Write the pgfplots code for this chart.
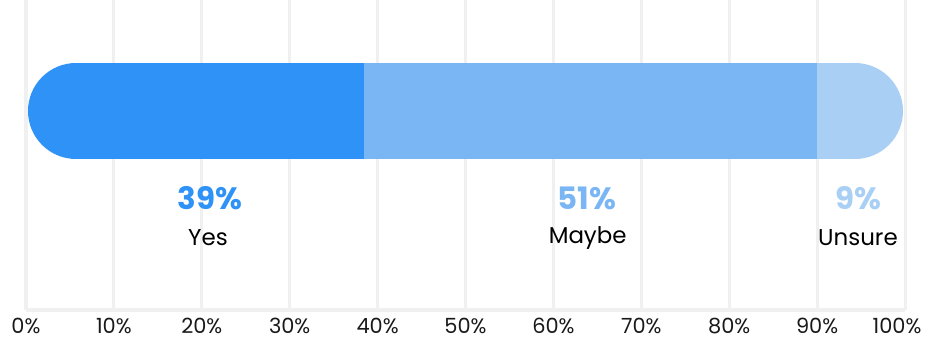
\documentclass[border=0pt]{standalone}
\usepackage{pgfplots}
\pgfplotsset{compat=1.18}
\usepackage{fontspec}
\setmainfont{Poppins}
\definecolor{cyes}{RGB}{47,146,247}
\definecolor{cmaybe}{RGB}{122,182,244}
\definecolor{cunsure}{RGB}{170,207,245}
\definecolor{gridgray}{RGB}{240,240,240}
\begin{document}
\begin{tikzpicture}
\begin{axis}[
  at={(26bp,31bp)}, anchor=south west,
  scale only axis, width=879bp, height=310bp,
  xmin=0, xmax=100, ymin=0, ymax=310,
  axis y line=none, axis x line*=bottom,
  axis line style={-},
  x axis line style={draw=gridgray, line width=3bp},
  xtick={0,10,...,100},
  xticklabels={0\%,10\%,20\%,30\%,40\%,50\%,60\%,70\%,80\%,90\%,100\%\hspace*{16bp}},
  xmajorgrids, grid style={draw=gridgray, line width=3bp},
  major tick length=0pt, ytick=\empty,
  xticklabel style={font=\fontsize{21}{24}\selectfont, text=black!90, anchor=north, inner sep=0pt, yshift=-8bp},
  clip=false,
]
% Yes: 0 -> 38.45 (rounded left end)
\addplot[draw=cyes, line width=96bp, line cap=round, shorten <=50bp, mark=none] coordinates {(0,199) (38.45,199)};
% Unsure: 90 -> 100 (rounded right end)
\addplot[draw=cunsure, line width=96bp, line cap=round, shorten >=50bp, mark=none] coordinates {(90,199) (100,199)};
% Maybe: 38.45 -> 90
\addplot[draw=cmaybe, line width=96bp, line cap=butt, mark=none] coordinates {(38.45,199) (90,199)};
% labels
\addplot[draw=none, mark=none, nodes near coords={\bfseries 39\%}, nodes near coords style={anchor=center, text=cyes, font=\fontsize{31}{34}\selectfont}] coordinates {(20.9,112)};
\addplot[draw=none, mark=none, nodes near coords={Yes}, nodes near coords style={anchor=center, text=black, font=\fontsize{23}{26}\selectfont}] coordinates {(20.7,72)};
\addplot[draw=none, mark=none, nodes near coords={\bfseries 51\%}, nodes near coords style={anchor=center, text=cmaybe, font=\fontsize{31}{34}\selectfont}] coordinates {(63.8,112)};
\addplot[draw=none, mark=none, nodes near coords={Maybe}, nodes near coords style={anchor=center, text=black, font=\fontsize{23}{26}\selectfont}] coordinates {(63.9,72)};
\addplot[draw=none, mark=none, nodes near coords={\bfseries 9\%}, nodes near coords style={anchor=center, text=cunsure, font=\fontsize{31}{34}\selectfont}] coordinates {(94.65,112)};
\addplot[draw=none, mark=none, nodes near coords={Unsure}, nodes near coords style={anchor=center, text=black, font=\fontsize{23}{26}\selectfont}] coordinates {(94.65,72)};
\end{axis}
\pgfresetboundingbox
\useasboundingbox (0,0) rectangle (930bp,341bp);
\end{tikzpicture}
\end{document}
